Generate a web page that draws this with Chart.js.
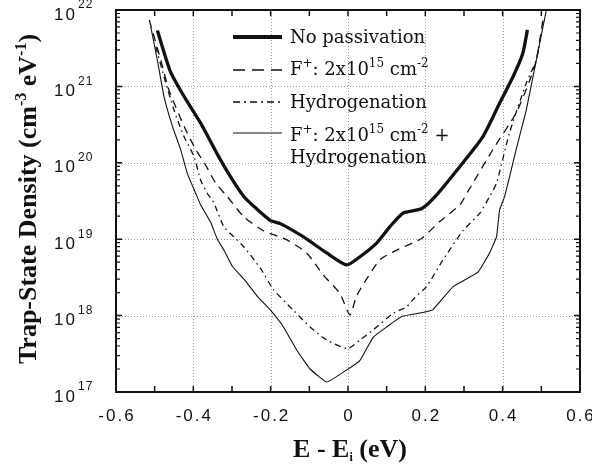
<!DOCTYPE html>
<html>
<head>
<meta charset="utf-8">
<script src="https://cdn.jsdelivr.net/npm/chart.js@4.4.1/dist/chart.umd.min.js"></script>
<style>
  html, body { margin: 0; padding: 0; background: #fff; }
  #wrap { width: 592px; height: 464px; position: relative; }
</style>
</head>
<body>
<div id="wrap"><canvas id="myChart" width="592" height="464"></canvas></div>
<script>
// energy (eV) and trap-state density (cm^-3 eV^-1)
const noPassE = [-0.493, -0.459, -0.424, -0.381, -0.338, -0.304, -0.269, -0.240, -0.200, -0.175, -0.115, -0.055, -0.003,
  0.031, 0.074, 0.108, 0.143, 0.190, 0.225, 0.289, 0.349, 0.392, 0.427, 0.452, 0.464];
const noPassN = [5.4e21, 1.55e21, 7.4e20, 3.3e20, 1.3e20, 6.6e19, 3.6e19, 2.6e19, 1.75e19, 1.6e19, 1.07e19, 6.6e18, 4.6e18,
  5.9e18, 8.9e18, 1.45e19, 2.2e19, 2.5e19, 3.6e19, 8.9e19, 2.2e20, 6.0e20, 1.35e21, 2.7e21, 5.5e21];

const fluorE = [-0.514, -0.484, -0.463, -0.424, -0.394, -0.368, -0.342, -0.312, -0.269, -0.220, -0.158, -0.107, -0.064, -0.021,
  0.005, 0.022, 0.048, 0.083, 0.126, 0.190, 0.237, 0.289, 0.310, 0.375, 0.435, 0.470, 0.487, 0.504];
const fluorN = [7.4e21, 2.2e21, 8.9e20, 3.0e20, 1.5e20, 9.3e19, 5.4e19, 3.6e19, 1.95e19, 1.3e19, 9.8e18, 6.6e18, 3.4e18, 1.95e18,
  1.02e18, 1.8e18, 3.0e18, 5.4e18, 7.2e18, 1.02e19, 1.7e19, 2.8e19, 4.2e19, 1.5e20, 4.5e20, 1.2e21, 2.2e21, 7.4e21];

const hydroE = [-0.497, -0.476, -0.450, -0.424, -0.398, -0.381, -0.364, -0.347, -0.321, -0.295, -0.269, -0.227, -0.193, -0.141,
  -0.098, -0.055, -0.001, 0.031, 0.065, 0.117, 0.151, 0.172, 0.203, 0.246, 0.298, 0.341, 0.366, 0.384, 0.418, 0.461, 0.487, 0.495];
const hydroN = [3.3e21, 1.35e21, 4.9e20, 2.2e20, 1.2e20, 5.9e19, 4.0e19, 3.0e19, 1.45e19, 1.07e19, 7.9e18, 4.2e18, 2.2e18, 1.17e18,
  7.1e17, 4.8e17, 3.7e17, 4.8e17, 6.5e17, 1.07e18, 1.3e18, 1.7e18, 2.4e18, 5.4e18, 1.3e19, 2.2e19, 3.6e19, 5.4e19, 2.5e20, 1.1e21, 2.2e21, 3.6e21];

const bothE = [-0.510, -0.493, -0.476, -0.454, -0.433, -0.415, -0.394, -0.381, -0.355, -0.338, -0.321, -0.299, -0.269, -0.235,
  -0.200, -0.167, -0.132, -0.098, -0.055, -0.003, 0.031, 0.065, 0.100, 0.140, 0.194, 0.220, 0.272, 0.336, 0.366, 0.384,
  0.392, 0.405, 0.435, 0.461, 0.487, 0.513];
const bothN = [6.0e21, 2.2e21, 7.4e20, 3.0e20, 1.5e20, 7.1e19, 4.0e19, 2.8e19, 1.65e19, 1.0e19, 7.2e18, 4.4e18, 3.0e18, 1.8e18,
  1.17e18, 7.1e17, 3.5e17, 2.0e17, 1.35e17, 1.95e17, 2.6e17, 5.2e17, 7.1e17, 9.8e17, 1.1e18, 1.2e18, 2.4e18, 3.7e18, 6.6e18, 1.07e19,
  2.4e19, 3.6e19, 1.5e20, 4.9e20, 2.2e21, 1.0e22];

const xTicks = [-0.6, -0.4, -0.2, 0, 0.2, 0.4, 0.6];
const xTickLabels = ['-0.6', '-0.4', '-0.2', '0', '0.2', '0.4', '0.6'];
const yExponents = [17, 18, 19, 20, 21, 22];

const INK = '#111';

function pts(xs, ys) {
  return xs.map((x, i) => ({ x: x, y: ys[i] }));
}

// draws text made of several runs (normal / superscript / subscript)
function richWidth(ctx, parts) {
  let w = 0;
  parts.forEach(p => { ctx.font = p.font; w += ctx.measureText(p.t).width; });
  return w;
}
function drawRich(ctx, parts, x, y, align) {
  const w = richWidth(ctx, parts);
  let cx = align === 'left' ? x : x - w / 2;
  parts.forEach(p => {
    ctx.font = p.font;
    ctx.fillText(p.t, cx, y + (p.dy || 0));
    cx += ctx.measureText(p.t).width;
  });
}

const frame = {
  id: 'frame',
  beforeDatasetsDraw(chart) {
    const { ctx, chartArea: a, scales: { x, y } } = chart;
    ctx.save();
    ctx.strokeStyle = '#9a9a9a';
    ctx.lineWidth = 1;
    ctx.setLineDash([1, 2]);
    [-0.4, -0.2, 0, 0.2, 0.4].forEach(v => {
      const px = Math.round(x.getPixelForValue(v)) + 0.5;
      ctx.beginPath(); ctx.moveTo(px, a.top); ctx.lineTo(px, a.bottom); ctx.stroke();
    });
    [18, 19, 20, 21].forEach(e => {
      const py = Math.round(y.getPixelForValue(Math.pow(10, e))) + 0.5;
      ctx.beginPath(); ctx.moveTo(a.left, py); ctx.lineTo(a.right, py); ctx.stroke();
    });
    ctx.restore();
  },
  afterDraw(chart) {
    const { ctx, chartArea: a, scales: { x, y } } = chart;
    ctx.save();
    ctx.strokeStyle = INK;
    ctx.setLineDash([]);
    // inward ticks, every 0.1 eV on bottom and top
    ctx.lineWidth = 1.5;
    for (let k = -5; k <= 5; k++) {
      const px = x.getPixelForValue(k / 10);
      ctx.beginPath();
      ctx.moveTo(px, a.bottom); ctx.lineTo(px, a.bottom - 6);
      ctx.moveTo(px, a.top); ctx.lineTo(px, a.top + 6);
      ctx.stroke();
    }
    // log ticks on left and right
    for (let e = 17; e <= 22; e++) {
      for (let m = 1; m <= 9; m++) {
        if (e === 22 && m > 1) break;
        const py = y.getPixelForValue(m * Math.pow(10, e));
        const len = m === 1 ? 6 : 4;
        ctx.lineWidth = m === 1 ? 1.5 : 1.2;
        ctx.beginPath();
        ctx.moveTo(a.left, py); ctx.lineTo(a.left + len, py);
        ctx.moveTo(a.right, py); ctx.lineTo(a.right - len, py);
        ctx.stroke();
      }
    }
    // frame
    ctx.lineWidth = 2;
    ctx.strokeRect(a.left, a.top, a.right - a.left, a.bottom - a.top);

    // tick labels
    ctx.fillStyle = INK;
    ctx.textBaseline = 'middle';
    ctx.textAlign = 'center';
    ctx.font = '17px "Liberation Sans", Arial, sans-serif';
    ctx.letterSpacing = '2px';
    xTicks.forEach((v, i) => {
      ctx.fillText(xTickLabels[i], x.getPixelForValue(v) + 1, a.bottom + 24);
    });
    ctx.textAlign = 'left';
    yExponents.forEach(e => {
      const py = y.getPixelForValue(Math.pow(10, e));
      ctx.font = '17px "Liberation Sans", Arial, sans-serif';
      ctx.letterSpacing = '2px';
      ctx.fillText('10', 54, py + 5);
      ctx.font = '12px "Liberation Sans", Arial, sans-serif';
      ctx.letterSpacing = '1px';
      ctx.fillText(String(e), 78, py - 5);
    });
    ctx.letterSpacing = '0px';

    // axis titles
    const bold = '700 26px "Liberation Serif", "Times New Roman", serif';
    const boldSmall = '700 16px "Liberation Serif", "Times New Roman", serif';
    ctx.textAlign = 'left';
    ctx.textBaseline = 'alphabetic';
    drawRich(ctx, [
      { t: 'E - E', font: bold },
      { t: 'i', font: '700 12px "Liberation Serif", serif', dy: 4 },
      { t: ' (eV)', font: bold }
    ], 350, 457, 'center');

    ctx.save();
    ctx.translate(36, 199);
    ctx.rotate(-Math.PI / 2);
    drawRich(ctx, [
      { t: 'Trap-State Density (cm', font: bold },
      { t: '-3', font: boldSmall, dy: -10 },
      { t: ' eV', font: bold },
      { t: '-1', font: boldSmall, dy: -10 },
      { t: ')', font: bold }
    ], 0, 0, 'center');
    ctx.restore();

    // legend
    const lf = '18px "DejaVu Serif", "Liberation Serif", serif';
    const ls = '12px "DejaVu Serif", "Liberation Serif", serif';
    const items = [
      { y: 37, w: 4, dash: [] },
      { y: 70, w: 1.4, dash: [12, 7] },
      { y: 102, w: 1.4, dash: [7, 4, 2, 4] },
      { y: 133, w: 1.2, dash: [] }
    ];
    items.forEach(it => {
      ctx.lineWidth = it.w;
      ctx.setLineDash(it.dash);
      ctx.beginPath(); ctx.moveTo(233, it.y); ctx.lineTo(282, it.y); ctx.stroke();
    });
    ctx.setLineDash([]);
    ctx.textBaseline = 'alphabetic';
    drawRich(ctx, [{ t: 'No passivation', font: lf }], 290, 43, 'left');
    drawRich(ctx, [
      { t: 'F', font: lf }, { t: '+', font: ls, dy: -8 }, { t: ': 2x10', font: lf },
      { t: '15', font: ls, dy: -8 }, { t: ' cm', font: lf }, { t: '-2', font: ls, dy: -8 }
    ], 290, 75, 'left');
    drawRich(ctx, [{ t: 'Hydrogenation', font: lf }], 290, 108, 'left');
    drawRich(ctx, [
      { t: 'F', font: lf }, { t: '+', font: ls, dy: -8 }, { t: ': 2x10', font: lf },
      { t: '15', font: ls, dy: -8 }, { t: ' cm', font: lf }, { t: '-2', font: ls, dy: -8 },
      { t: ' +', font: lf }
    ], 290, 141, 'left');
    drawRich(ctx, [{ t: 'Hydrogenation', font: lf }], 290, 163, 'left');
    ctx.restore();
  }
};

const common = { pointRadius: 0, borderColor: INK, fill: false };

myChart = new Chart(document.getElementById('myChart').getContext('2d'), {
  type: 'line',
  data: {
    datasets: [
      Object.assign({ label: 'No passivation', data: pts(noPassE, noPassN), borderWidth: 3.3, tension: 0.2 }, common),
      Object.assign({ label: 'F+: 2x10^15 cm^-2', data: pts(fluorE, fluorN), borderWidth: 1.3, borderDash: [8, 6], tension: 0.2 }, common),
      Object.assign({ label: 'Hydrogenation', data: pts(hydroE, hydroN), borderWidth: 1.3, borderDash: [6, 4, 1.5, 4], tension: 0.2 }, common),
      Object.assign({ label: 'F+: 2x10^15 cm^-2 + Hydrogenation', data: pts(bothE, bothN), borderWidth: 1.1, tension: 0.1 }, common)
    ]
  },
  options: {
    responsive: false,
    animation: false,
    layout: { padding: { top: 10, right: 12, left: 0, bottom: 0 } },
    plugins: { legend: { display: false }, tooltip: { enabled: false } },
    scales: {
      x: {
        type: 'linear', min: -0.6, max: 0.6,
        ticks: { display: false }, grid: { display: false }, border: { display: false },
        afterFit: s => { s.height = 72; }
      },
      y: {
        type: 'logarithmic', min: 1e17, max: 1e22,
        ticks: { display: false }, grid: { display: false }, border: { display: false },
        afterFit: s => { s.width = 116; }
      }
    }
  },
  plugins: [frame]
});
</script>
</body>
</html>
